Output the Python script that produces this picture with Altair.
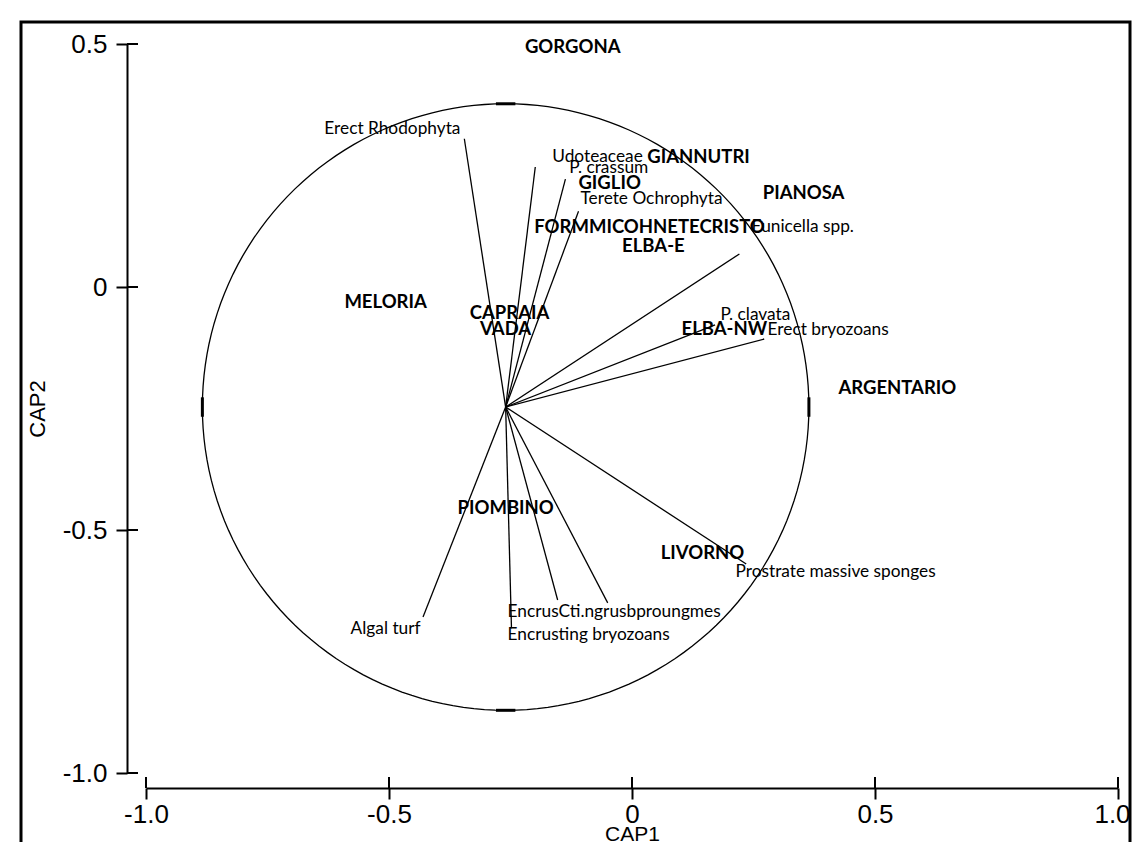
import altair as alt
import pandas as pd

# ---------------- data (CAP1 / CAP2 units) ----------------
x_ticks = [-1.0, -0.5, 0.0, 0.5, 1.0]
y_ticks = [0.5, 0.0, -0.5, -1.0]

# correlation circle (centre and radius)
circle_center = [-0.260, -0.247]
circle_radius = 0.624

# vector end points (vectors start at the circle centre)
vector_x = [-0.345, -0.199, -0.137, -0.110, 0.221, 0.171, 0.272, 0.235, -0.248, -0.153, -0.050, -0.430]
vector_y = [0.305, 0.247, 0.222, 0.156, 0.068, -0.078, -0.107, -0.570, -0.702, -0.644, -0.650, -0.679]

# vector labels anchored at their start
vlabel_text = ["Udoteaceae", "P. crassum", "Terete Ochrophyta", "Eunicella spp.", "P. clavata",
               "Erect bryozoans", "Prostrate massive sponges", "EncrusCti.ngrusbproungmes",
               "Encrusting bryozoans"]
vlabel_x = [-0.164, -0.129, -0.106, 0.246, 0.182, 0.279, 0.213, -0.256, -0.256]
vlabel_y = [0.268, 0.245, 0.181, 0.124, -0.058, -0.089, -0.586, -0.669, -0.716]

# vector labels anchored at their end
elabel_text = ["Erect Rhodophyta", "Algal turf"]
elabel_x = [-0.353, -0.435]
elabel_y = [0.325, -0.704]

# sites
site_names = ["GORGONA", "GIANNUTRI", "GIGLIO", "PIANOSA", "FORMMICOHNETECRISTO", "ELBA-E",
              "MELORIA", "CAPRAIA", "VADA", "ELBA-NW", "ARGENTARIO", "PIOMBINO", "LIVORNO"]
site_x = [-0.122, 0.137, -0.046, 0.353, 0.036, 0.044, -0.507, -0.252, -0.260, 0.190, 0.546, -0.260, 0.145]
site_y = [0.494, 0.268, 0.214, 0.193, 0.124, 0.084, -0.031, -0.054, -0.086, -0.086, -0.208, -0.455, -0.547]

# ---------------- chart ----------------
W, H = 972, 729
AX_FONT = "Liberation Sans, Arial, sans-serif"
TXT_FONT = "Lato, Carlito, Calibri, sans-serif"
lab_expr = "datum.value == 0 ? '0' : (datum.value < 0 ? '-' : '') + format(abs(datum.value), '.1f')"


def X(field):
    return alt.X(field, type="quantitative", title="CAP1",
                 scale=alt.Scale(domain=[-1, 1], nice=False, zero=False),
                 axis=alt.Axis(values=x_ticks, labelExpr=lab_expr, offset=15, tickSize=11,
                               tickWidth=2, domainWidth=2, grid=False, labelFlush=False,
                               labelOffset={"condition": {"test": "datum.value == 1", "value": -6},
                                            "value": 0},
                               labelPadding=2, titlePadding=-4, titleFontSize=21))


def Y(field):
    return alt.Y(field, type="quantitative", title="CAP2",
                 scale=alt.Scale(domain=[-1, 0.5], nice=False, zero=False),
                 axis=alt.Axis(values=y_ticks, labelExpr=lab_expr, offset=19, tickSize=11,
                               tickWidth=2, domainWidth=2, grid=False, labelFlush=False,
                               labelPadding=9, titlePadding=13, titleFontSize=22))


cx, cy = circle_center
r = circle_radius

circle = alt.Chart(alt.sequence(0, 362, 2, as_="t")).transform_calculate(
    cxv=f"{cx} + {r} * cos(datum.t * PI / 180)",
    cyv=f"{cy} + {r} * sin(datum.t * PI / 180)",
).mark_line(color="black", strokeWidth=1.3).encode(x=X("cxv"), y=Y("cyv"), order="t:Q")

d = 0.02
markers_df = pd.DataFrame({
    "x": [cx - d, cx - d, cx - r, cx + r],
    "x2": [cx + d, cx + d, cx - r, cx + r],
    "y": [cy + r, cy - r, cy - d, cy - d],
    "y2": [cy + r, cy - r, cy + d, cy + d],
})
markers = alt.Chart(markers_df).mark_rule(color="black", strokeWidth=3).encode(
    x=X("x"), x2="x2", y=Y("y"), y2="y2")

vec_df = pd.DataFrame({"x0": [cx] * len(vector_x), "y0": [cy] * len(vector_y),
                       "x": vector_x, "y": vector_y})
vectors = alt.Chart(vec_df).mark_rule(color="black", strokeWidth=1.3).encode(
    x=X("x0"), y=Y("y0"), x2="x", y2="y")

vlab = alt.Chart(pd.DataFrame({"x": vlabel_x, "y": vlabel_y, "t": vlabel_text})).mark_text(
    font=TXT_FONT, fontSize=17.3, align="left", baseline="middle", color="black"
).encode(x=X("x"), y=Y("y"), text="t:N")

elab = alt.Chart(pd.DataFrame({"x": elabel_x, "y": elabel_y, "t": elabel_text})).mark_text(
    font=TXT_FONT, fontSize=17.3, align="right", baseline="middle", color="black"
).encode(x=X("x"), y=Y("y"), text="t:N")

sites = alt.Chart(pd.DataFrame({"x": site_x, "y": site_y, "t": site_names})).mark_text(
    font=TXT_FONT, fontSize=18.5, fontWeight="bold", align="center", baseline="middle", color="black"
).encode(x=X("x"), y=Y("y"), text="t:N")

# inner halves of the crossing axis ticks
ytick_in = alt.Chart(pd.DataFrame({"v": y_ticks})).mark_rule(color="black", strokeWidth=2).encode(
    y=Y("v"), x=alt.value(-19), x2=alt.value(-8))
xtick_in = alt.Chart(pd.DataFrame({"v": x_ticks})).mark_rule(color="black", strokeWidth=2).encode(
    x=X("v"), y=alt.value(H + 15), y2=alt.value(H + 4))

# outer frame of the figure
frame = alt.Chart(pd.DataFrame({"k": [0]})).mark_rect(
    fill="white", fillOpacity=0, stroke="black", strokeWidth=3
).encode(x=alt.value(-125), x2=alt.value(984), y=alt.value(-22), y2=alt.value(H + 200))

chart = alt.layer(frame, circle, markers, vectors, ytick_in, xtick_in, sites, vlab, elab).properties(
    width=W, height=H,
    autosize=alt.AutoSizeParams(type="none"),
    padding={"left": 138, "top": 36, "right": 14, "bottom": 69},
).configure_view(stroke=None).configure_axis(
    domainColor="black", tickColor="black", labelColor="black", titleColor="black",
    labelFont=AX_FONT, titleFont=AX_FONT, labelFontSize=26,
    titleFontWeight="normal",
)

chart.save("out.html", embed_options={"renderer": "svg", "actions": False})
